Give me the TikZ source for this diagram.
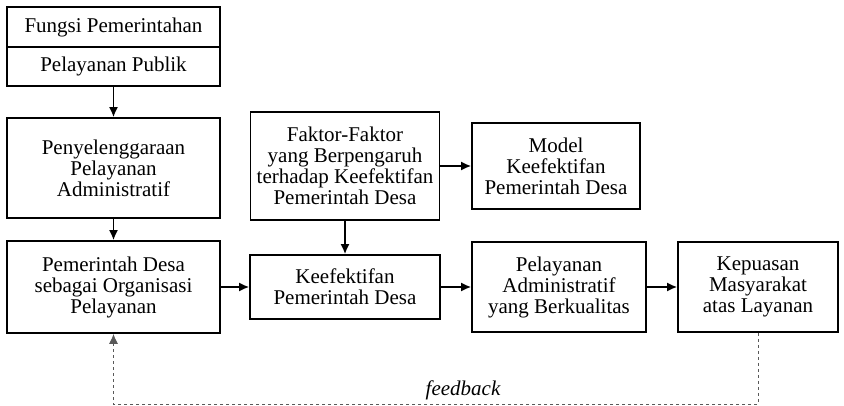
\documentclass[tikz,border=0pt]{standalone}
\usepackage{fontspec}
\setmainfont{Liberation Serif}
\newfontfamily\timesfont{Liberation Serif}
\usepackage{tikz}
\usetikzlibrary{arrows.meta,positioning}

\begin{document}
\begin{tikzpicture}[x=1pt, y=-1pt, >={Latex[length=10pt,width=9pt]}]
			\tikzstyle{Box} 	= [rectangle, draw, line width=1.7pt, fill=white, align=center, inner sep=1pt, font=\timesfont\fontsize{21}{21}\selectfont]
			\tikzstyle{Flow}	= [->, line width=1.7pt]
			\tikzstyle{FB}		= [->, dashed, line width=1pt, black!65]

			\useasboundingbox (0,0) rectangle (844,406);

			\node (fungsi)  at (113.5, 27)  [Box, minimum width=213pt, minimum height=40pt] {Fungsi Pemerintahan};
			\node (publik)  at (113.5, 66.5) [Box, minimum width=213pt, minimum height=39pt] {Pelayanan Publik};
			\node (penyel)  at (113.5, 168) [Box, minimum width=213pt, minimum height=100pt] {Penyelenggaraan\\Pelayanan\\Administratif};
			\node (pemdes)  at (113.5, 287) [Box, minimum width=213pt, minimum height=92pt] {Pemerintah Desa\\sebagai Organisasi\\Pelayanan};
			\node (faktor)  at (345, 166)   [Box, minimum width=189pt, minimum height=108pt] {Faktor-Faktor\\yang Berpengaruh\\terhadap Keefektifan\\Pemerintah Desa};
			\node (model)   at (556, 166)   [Box, minimum width=168pt, minimum height=86pt] {Model\\Keefektifan\\Pemerintah Desa};
			\node (efektif) at (345, 287)   [Box, minimum width=190pt, minimum height=64pt] {Keefektifan\\Pemerintah Desa};
			\node (admin)   at (559, 287)   [Box, minimum width=174pt, minimum height=90pt] {Pelayanan\\Administratif\\yang Berkualitas};
			\node (puas)    at (758, 287)   [Box, minimum width=160pt, minimum height=90pt] {Kepuasan\\Masyarakat\\atas Layanan};

			\coordinate (fbR) at (puas.south |- 0,404);
			\coordinate (fbL) at (pemdes.south |- 0,404);
			\node (fblabel) at (463, 390) [font=\timesfont\fontsize{21}{21}\selectfont\itshape] {feedback};

			\draw (publik.south) to (penyel.north) [Flow];
			\draw (penyel.south) to (pemdes.north) [Flow];
			\draw (pemdes.east) to (efektif.west) [Flow];
			\draw (faktor.south) to (efektif.north) [Flow];
			\draw (faktor.east) to (model.west) [Flow];
			\draw (efektif.east) to (admin.west) [Flow];
			\draw (admin.east) to (puas.west) [Flow];
			\draw (puas.south) -- (fbR) -- (fbL) -- (pemdes.south) [FB];
		\end{tikzpicture}
\end{document}
